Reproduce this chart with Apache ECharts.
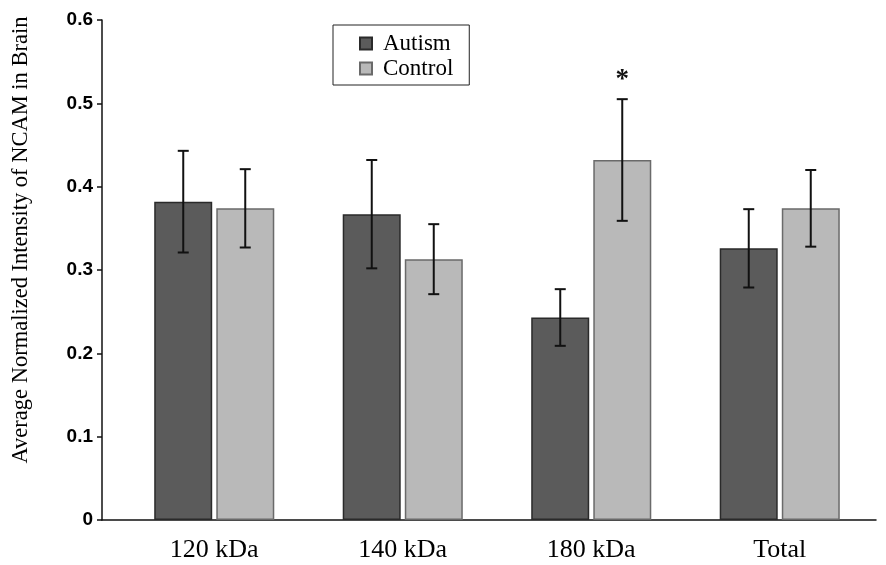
<!DOCTYPE html>
<html>
<head>
<meta charset="utf-8">
<script src="https://cdn.jsdelivr.net/npm/echarts@6/dist/echarts.min.js"></script>
<style>
html,body{margin:0;padding:0;background:#fff;}
#chart{width:886px;height:565px;}
</style>
</head>
<body>
<div id="chart"></div>
<script>
// ---- data ----
const categories = ['120 kDa', '140 kDa', '180 kDa', 'Total'];
const autismMean = [0.382, 0.367, 0.243, 0.326];
const autismErr  = [0.061, 0.065, 0.034, 0.047];
const controlMean = [0.374, 0.313, 0.432, 0.374];
const controlErr  = [0.047, 0.042, 0.073, 0.046];
const controlSignificant = [false, false, true, false];
const yTicks = [0, 0.1, 0.2, 0.3, 0.4, 0.5, 0.6];
const yTitle = 'Average Normalized Intensity of NCAM in Brain';

const BAR_W = 58, HALF_OFF = 31;

function errData(means, errs, flags) {
  return means.map((m, i) => [i, m, errs[i], flags ? (flags[i] ? 1 : 0) : 0]);
}
function errRender(offset) {
  return function (params, api) {
    const i = api.value(0), m = api.value(1), e = api.value(2), sig = api.value(3);
    const top = api.coord([i, m + e]);
    const bot = api.coord([i, m - e]);
    const x = top[0] + offset;
    const cap = 5.5;
    const style = { stroke: '#111', lineWidth: 2 };
    const children = [
      { type: 'line', shape: { x1: x, y1: top[1], x2: x, y2: bot[1] }, style },
      { type: 'line', shape: { x1: x - cap, y1: top[1], x2: x + cap, y2: top[1] }, style },
      { type: 'line', shape: { x1: x - cap, y1: bot[1], x2: x + cap, y2: bot[1] }, style }
    ];
    if (sig) {
      children.push({ type: 'text', style: { text: '*', x: x, y: top[1] - 19,
        textAlign: 'center', textVerticalAlign: 'middle',
        font: 'bold 27px "Liberation Serif", serif', fill: '#111' } });
    }
    return { type: 'group', children };
  };
}

const chart = echarts.init(document.getElementById('chart'), null, { renderer: 'canvas' });
chart.setOption({
  backgroundColor: '#fff',
  animation: false,
  legend: {
    data: ['Autism', 'Control'],
    orient: 'vertical',
    left: 333, top: 25,
    padding: [7, 16, 5, 26],
    itemGap: 2,
    itemWidth: 12, itemHeight: 12,
    borderColor: '#222', borderWidth: 1,
    backgroundColor: '#fff',
    textStyle: { fontFamily: '"Liberation Serif", serif', fontSize: 23, color: '#000', padding: [0, 0, 0, 6] },
    icon: 'rect'
  },
  grid: [
    { left: 120, right: 12, top: 20, bottom: 45 },
    { left: 102, right: 10, top: 20, bottom: 45 }
  ],
  xAxis: [
    { type: 'category', gridIndex: 0, data: categories,
      axisLine: { show: false }, axisTick: { show: false },
      axisLabel: { color: '#000', fontFamily: '"Liberation Serif", serif', fontSize: 26, margin: 17 } },
    { type: 'category', gridIndex: 1, data: [''],
      axisLine: { show: true, lineStyle: { color: '#111', width: 1.5 } },
      axisTick: { show: false }, axisLabel: { show: false } }
  ],
  yAxis: [
    { type: 'value', gridIndex: 0, min: 0, max: 0.6, interval: 0.1, show: false, splitLine: { show: false } },
    { type: 'value', gridIndex: 1, min: 0, max: 0.6, interval: 0.1,
      axisLine: { show: true, lineStyle: { color: '#111', width: 1.5 } },
      axisTick: { show: true, length: 5, lineStyle: { color: '#111', width: 1.5 } },
      splitLine: { show: false },
      axisLabel: { color: '#000', fontFamily: '"Liberation Sans", Arial, sans-serif', fontWeight: 'bold', fontSize: 19, margin: 9,
        formatter: v => { const t = yTicks.find(k => Math.abs(k - v) < 1e-9); return t === 0 ? '0' : t.toFixed(1); } } }
  ],
  series: [
    { name: 'Autism', type: 'bar', xAxisIndex: 0, yAxisIndex: 0, data: autismMean,
      barWidth: BAR_W, barGap: '7%',
      itemStyle: { color: '#5b5b5b', borderColor: '#2a2a2a', borderWidth: 1.5 } },
    { name: 'Control', type: 'bar', xAxisIndex: 0, yAxisIndex: 0, data: controlMean,
      barWidth: BAR_W, barGap: '7%',
      itemStyle: { color: '#b9b9b9', borderColor: '#6a6a6a', borderWidth: 1.5 } },
    { type: 'custom', xAxisIndex: 0, yAxisIndex: 0, renderItem: errRender(-HALF_OFF),
      data: errData(autismMean, autismErr), z: 5 },
    { type: 'custom', xAxisIndex: 0, yAxisIndex: 0, renderItem: errRender(HALF_OFF),
      data: errData(controlMean, controlErr, controlSignificant), z: 5 }
  ],
  graphic: [
    { type: 'text', x: 21, y: 240, rotation: Math.PI / 2,
      style: { text: yTitle, textAlign: 'center', textVerticalAlign: 'middle',
        font: '22.5px "Liberation Serif", serif', fill: '#000' } }
  ]
});
</script>
</body>
</html>
